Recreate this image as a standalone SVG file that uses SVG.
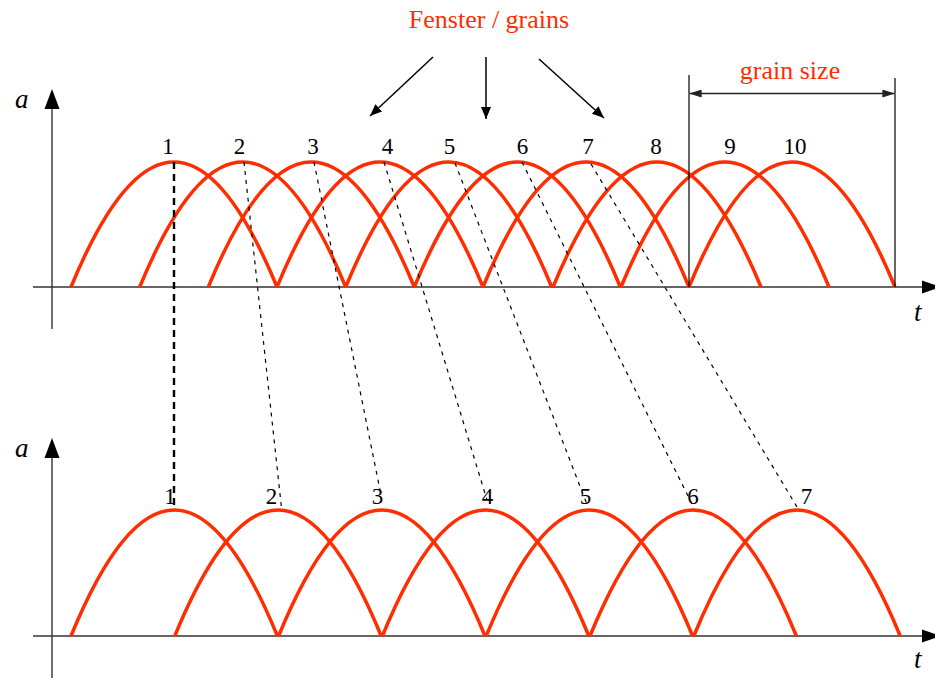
<svg xmlns="http://www.w3.org/2000/svg" width="935" height="678" viewBox="0 0 935 678">
<style>
.ax{stroke:#333;stroke-width:1.4;fill:none}
.grain{stroke:#ff2d00;stroke-width:3.5;fill:none;stroke-linejoin:round}
.dt{stroke:#000;stroke-width:1.2;stroke-dasharray:4 5;fill:none}
.dk{stroke:#000;stroke-width:2.4;stroke-dasharray:7 5;fill:none}
.ar{stroke:#000;stroke-width:1.5;fill:none}
.vl{stroke:#000;stroke-width:1.2;fill:none}
.num{font-family:"Liberation Serif","Times New Roman",serif;font-size:23px;fill:#000;text-anchor:middle}
.var{font-family:"Liberation Serif","Times New Roman",serif;font-size:27px;font-style:italic;fill:#000}
.red{font-family:"Liberation Serif","Times New Roman",serif;font-size:26px;fill:#ff2d00;text-anchor:middle}
.head{fill:#000}
</style>
<defs>
<marker id="ah" markerWidth="12" markerHeight="10" refX="12" refY="5" orient="auto" markerUnits="userSpaceOnUse">
<path d="M0,0 L12,5 L0,10 z" fill="#000"/>
</marker>
<marker id="ahs" markerWidth="12" markerHeight="8" refX="12" refY="4" orient="auto-start-reverse" markerUnits="userSpaceOnUse">
<path d="M0,0 L12,4 L0,8 z" fill="#222"/>
</marker>
</defs>

<g id="axes-top">
<line class="ax" x1="33" y1="287" x2="924" y2="287"/>
<path class="head" d="M922,280.5 L941,287 L922,293.5 z"/>
<line class="ax" x1="52" y1="329" x2="52" y2="106"/>
<path class="head" d="M44.5,109 L52,89 L59.5,109 z"/>
<text class="var" x="15" y="108">a</text>
<text class="var" x="914" y="321">t</text>
</g>

<g id="axes-bottom">
<line class="ax" x1="33" y1="636" x2="924" y2="636"/>
<path class="head" d="M922,629.5 L941,636 L922,642.5 z"/>
<line class="ax" x1="52" y1="678" x2="52" y2="456"/>
<path class="head" d="M44.5,458 L52,438 L59.5,458 z"/>
<text class="var" x="15" y="457">a</text>
<text class="var" x="914" y="668">t</text>
</g>

<g id="grains-top">
<path id="gt1" class="grain" d="M71,287 Q174,37 277,287"/>
<path id="gt2" class="grain" d="M139.7,287 Q242.7,37 345.7,287"/>
<path id="gt3" class="grain" d="M208.3,287 Q311.3,37 414.3,287"/>
<path id="gt4" class="grain" d="M277,287 Q380,37 483,287"/>
<path id="gt5" class="grain" d="M345.7,287 Q448.7,37 551.7,287"/>
<path id="gt6" class="grain" d="M414.3,287 Q517.3,37 620.3,287"/>
<path id="gt7" class="grain" d="M483,287 Q586,37 689,287"/>
<path id="gt8" class="grain" d="M553,287 Q657,37 761,287"/>
<path id="gt9" class="grain" d="M621,287 Q725,37 829,287"/>
<path id="gt10" class="grain" d="M689,287 Q792,37 895,287"/>
</g>

<g id="grains-bottom">
<path id="gb1" class="grain" d="M71,636 Q174.2,384 277.4,636"/>
<path id="gb2" class="grain" d="M174.8,636 Q278,384 381.2,636"/>
<path id="gb3" class="grain" d="M278.6,636 Q381.8,384 485,636"/>
<path id="gb4" class="grain" d="M382.4,636 Q485.6,384 588.8,636"/>
<path id="gb5" class="grain" d="M486.2,636 Q589.4,384 692.6,636"/>
<path id="gb6" class="grain" d="M590,636 Q693.2,384 796.4,636"/>
<path id="gb7" class="grain" d="M693.8,636 Q797,384 900.2,636"/>
</g>

<g id="connectors">
<line class="dk" x1="174" y1="162" x2="174" y2="510"/>
<line class="dt" x1="244" y1="162" x2="281.5" y2="508"/>
<line class="dt" x1="314" y1="162" x2="380" y2="490"/>
<line class="dt" x1="384" y1="162" x2="487" y2="500"/>
<line class="dt" x1="455" y1="163" x2="588" y2="507"/>
<line class="dt" x1="522" y1="162" x2="694" y2="508"/>
<line class="dt" x1="591" y1="164" x2="797" y2="507"/>
<line class="ar" x1="433" y1="57" x2="370" y2="116" marker-end="url(#ah)"/>
<line class="ar" x1="486" y1="57" x2="486" y2="119" marker-end="url(#ah)"/>
<line class="ar" x1="539" y1="59" x2="604" y2="118" marker-end="url(#ah)"/>
</g>

<g id="grain-size">
<line class="vl" x1="689" y1="75" x2="689" y2="287"/>
<line class="vl" x1="895" y1="78" x2="895" y2="287"/>
<line stroke="#222" stroke-width="1.4" x1="689.6" y1="93.5" x2="894.4" y2="93.5" marker-start="url(#ahs)" marker-end="url(#ahs)"/>
<text class="red" x="790" y="79">grain size</text>
</g>

<g id="title">
<text class="red" x="489" y="28">Fenster / grains</text>
</g>

<g id="labels-top">
<text class="num" x="168" y="154">1</text>
<text class="num" x="239.5" y="154">2</text>
<text class="num" x="313" y="154">3</text>
<text class="num" x="387.5" y="154">4</text>
<text class="num" x="449.5" y="154">5</text>
<text class="num" x="522.5" y="154">6</text>
<text class="num" x="588" y="154">7</text>
<text class="num" x="656" y="154">8</text>
<text class="num" x="730" y="154">9</text>
<text class="num" x="795" y="154">10</text>
</g>

<g id="labels-bottom">
<text class="num" x="170" y="504">1</text>
<text class="num" x="271.5" y="504">2</text>
<text class="num" x="377.5" y="504">3</text>
<text class="num" x="487.5" y="504">4</text>
<text class="num" x="585.5" y="504">5</text>
<text class="num" x="693" y="504">6</text>
<text class="num" x="806.5" y="504">7</text>
</g>
</svg>
